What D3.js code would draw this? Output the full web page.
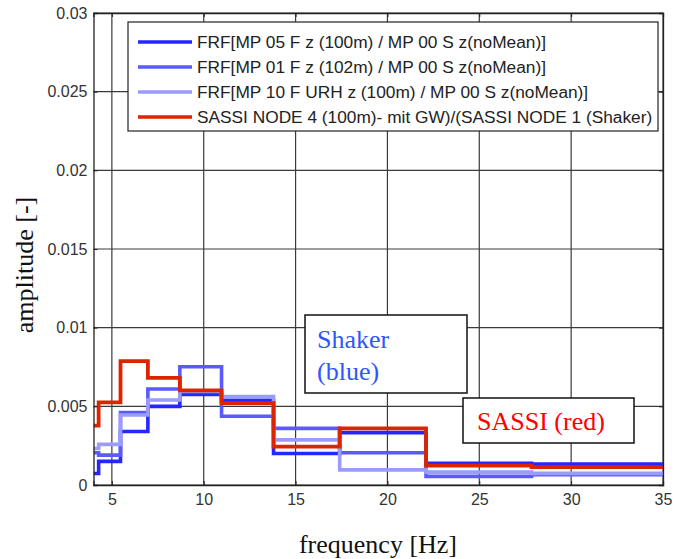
<!DOCTYPE html>
<html>
<head>
<meta charset="utf-8">
<script src="https://cdn.jsdelivr.net/npm/d3@7"></script>
<style>
  html, body { margin: 0; padding: 0; background: #fff; }
  svg { display: block; }
</style>
</head>
<body>
<svg id="chart" width="675" height="559"></svg>
<script>
// ---- data ----
const binEdges = [4, 4.28, 5.47, 6.96, 8.70, 10.97, 13.8, 17.4, 22.1, 27.85, 35];
const mp05 = [0.00073, 0.00150, 0.00340, 0.00500, 0.00575, 0.00538, 0.00200, 0.00333, 0.00138, 0.00133];
const mp01 = [0.00205, 0.00190, 0.00460, 0.00610, 0.00752, 0.00437, 0.00360, 0.00205, 0.00055, 0.00066];
const mp10 = [0.00232, 0.00258, 0.00445, 0.00540, 0.00595, 0.00562, 0.00287, 0.00096, 0.00082, 0.00074];
const sassi = [0.00377, 0.00525, 0.00787, 0.00681, 0.00602, 0.00521, 0.00244, 0.00360, 0.00123, 0.00114];
const seriesNames = [
  "FRF[MP 05 F z (100m) / MP 00 S z(noMean)]",
  "FRF[MP 01 F z (102m) / MP 00 S z(noMean)]",
  "FRF[MP 10 F URH z (100m) / MP 00 S z(noMean)]",
  "SASSI NODE 4 (100m)- mit GW)/(SASSI NODE 1 (Shaker)"
];
const seriesColors = ["#2626ff", "#5a5aff", "#9a9aff", "#dd2400"];
const xTicks = [5, 10, 15, 20, 25, 30, 35];
const yTicks = [0, 0.005, 0.01, 0.015, 0.02, 0.025, 0.03];
const yTickLabels = ["0", "0.005", "0.01", "0.015", "0.02", "0.025", "0.03"];

// ---- layout ----
const svg = d3.select("#chart");
const L = 93.5, R = 663, T = 13, B = 485;
const x = d3.scaleLinear().domain([4, 35]).range([L, R]);
const y = d3.scaleLinear().domain([0, 0.03]).range([B, T]);

// grid
const g = svg.append("g");
g.selectAll(".gx").data(xTicks).enter().append("line")
  .attr("x1", d => x(d)).attr("x2", d => x(d)).attr("y1", T).attr("y2", B)
  .attr("stroke", "#3a3a3a").attr("stroke-width", 1.2);
g.selectAll(".gy").data(yTicks).enter().append("line")
  .attr("x1", L).attr("x2", R).attr("y1", d => y(d)).attr("y2", d => y(d))
  .attr("stroke", "#3a3a3a").attr("stroke-width", 1.2);

// clip
svg.append("clipPath").attr("id", "clip").append("rect")
  .attr("x", L).attr("y", T).attr("width", R - L).attr("height", B - T);

// step lines
const allSeries = [mp05, mp01, mp10, sassi];
const line = d3.line().x(d => x(d[0])).y(d => y(d[1])).curve(d3.curveStepAfter);
allSeries.forEach((vals, i) => {
  const pts = binEdges.map((e, j) => [e, vals[Math.min(j, vals.length - 1)]]);
  svg.append("path").datum(pts)
    .attr("clip-path", "url(#clip)")
    .attr("d", line)
    .attr("fill", "none")
    .attr("stroke", seriesColors[i])
    .attr("stroke-width", i === 3 ? 3.8 : 3.6)
    .attr("stroke-linejoin", "miter");
});

// axes (box with inward ticks)
const axisColor = "#222";
const xb = d3.axisBottom(x).tickValues(xTicks).tickSize(-4).tickPadding(9).tickFormat(d3.format("d"));
const xt = d3.axisTop(x).tickValues(xTicks).tickSize(-4).tickFormat("");
const yl = d3.axisLeft(y).tickValues(yTicks).tickSize(-4).tickPadding(6).tickFormat((d, i) => yTickLabels[i]);
const yr = d3.axisRight(y).tickValues(yTicks).tickSize(-4).tickFormat("");
function styleAxis(sel) {
  sel.select(".domain").attr("stroke", axisColor).attr("stroke-width", 1.3);
  sel.selectAll(".tick line").attr("stroke", axisColor);
  sel.selectAll("text").attr("fill", "#333").style("font-family", "Liberation Sans, Arial, sans-serif").style("font-size", "16px");
}
svg.append("g").attr("transform", `translate(0,${B})`).call(xb).call(styleAxis);
svg.append("g").attr("transform", `translate(0,${T})`).call(xt).call(styleAxis);
svg.append("g").attr("transform", `translate(${L},0)`).call(yl).call(styleAxis);
svg.append("g").attr("transform", `translate(${R},0)`).call(yr).call(styleAxis);

// legend
const lg = svg.append("g");
lg.append("rect").attr("x", 128).attr("y", 22).attr("width", 530).attr("height", 109)
  .attr("fill", "#fff").attr("stroke", "#222").attr("stroke-width", 1.2);
const rowY = [42, 67, 92, 117];
seriesNames.forEach((name, i) => {
  lg.append("line").attr("x1", 138).attr("x2", 192).attr("y1", rowY[i]).attr("y2", rowY[i])
    .attr("stroke", seriesColors[i]).attr("stroke-width", 3.6);
  lg.append("text").attr("x", 197).attr("y", rowY[i] + 6)
    .attr("fill", "#222")
    .style("font-family", "Liberation Sans, Arial, sans-serif")
    .style("font-size", "17.3px")
    .text(name);
});

// annotation boxes
const serif = "Liberation Serif, Times New Roman, serif";
svg.append("rect").attr("x", 305).attr("y", 315).attr("width", 162).attr("height", 78)
  .attr("fill", "#fff").attr("stroke", "#111").attr("stroke-width", 1.5);
svg.append("text").attr("x", 317).attr("y", 348).attr("fill", "#2f55ff")
  .style("font-family", serif).style("font-size", "26px").text("Shaker");
svg.append("text").attr("x", 317).attr("y", 380).attr("fill", "#2f55ff")
  .style("font-family", serif).style("font-size", "26px").text("(blue)");

svg.append("rect").attr("x", 463).attr("y", 398).attr("width", 171).attr("height", 45)
  .attr("fill", "#fff").attr("stroke", "#111").attr("stroke-width", 1.5);
svg.append("text").attr("x", 477).attr("y", 430).attr("fill", "#ff0000")
  .style("font-family", serif).style("font-size", "26px").text("SASSI (red)");

// axis titles
svg.append("text").attr("x", 378).attr("y", 553).attr("text-anchor", "middle")
  .attr("fill", "#111").style("font-family", serif).style("font-size", "26px")
  .text("frequency  [Hz]");
svg.append("text").attr("transform", "translate(33,265) rotate(-90)").attr("text-anchor", "middle")
  .attr("fill", "#111").style("font-family", serif).style("font-size", "26px")
  .text("amplitude  [-]");
</script>
</body>
</html>
